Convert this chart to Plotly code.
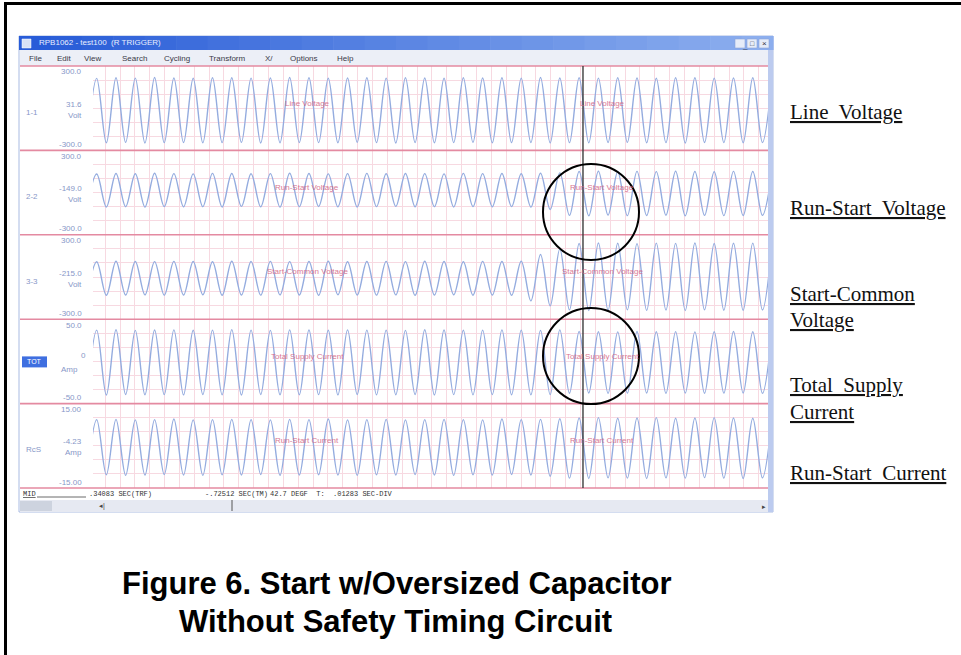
import plotly.graph_objects as go

W, H = 961, 655

# ---------------- data ----------------
PERIOD = 1 / 60.0          # s, mains cycle
T_FIRST_PEAK = 0.0032      # s, first positive peak
X_RANGE = [0, 0.583]       # s, visible time window
SEC_DIV = 0.01283          # s per grid division
CURSOR_T = 0.4232          # s, cursor position

channel_ids = ["1-1", "2-2", "3-3", "TOT", "RcS"]
channel_names = ["Line Voltage", "Run-Start Voltage", "Start-Common Voltage",
                 "Total Supply Current", "Run-Start Current"]
channel_units = ["Volt", "Volt", "Volt", "Amp", "Amp"]
channel_full_scale = [300.0, 300.0, 300.0, 50.0, 15.0]
channel_center_readout = ["31.6", "-149.0", "-215.0", "0", "-4.23"]
channel_top_label = ["300.0", "300.0", "300.0", "50.0", "15.00"]
channel_bottom_label = ["-300.0", "-300.0", "-300.0", "-50.0", "-15.00"]

# positive peaks and preceding negative troughs of each cycle
ch1_peaks = [212, 216, 214, 218, 215, 213, 217, 216, 214, 215, 218, 216, 213, 215, 217, 214, 216, 215,
             213, 217, 215, 216, 214, 218, 215, 217, 214, 216, 215, 213, 217, 216, 214, 215, 216, 215]
ch1_troughs = [-244, -246, -243, -247, -245, -244, -246, -245, -243, -247, -246, -244, -245, -246, -243, -245, -247, -244,
               -246, -245, -243, -246, -245, -244, -247, -245, -246, -244, -243, -246, -245, -247, -244, -245, -246, -244]
ch2_peaks = [132, 136, 134, 138, 135, 133, 137, 136, 134, 135, 138, 136, 133, 135, 137, 134, 136, 135,
             133, 137, 135, 136, 134, 138, 140, 150, 152, 148, 151, 149, 152, 150, 148, 151, 150, 149]
ch2_troughs = [-98, -102, -100, -103, -99, -101, -100, -102, -98, -101, -103, -100, -99, -101, -102, -100, -98, -101,
               -100, -102, -99, -101, -100, -103, -120, -162, -165, -160, -164, -163, -161, -165, -162, -164, -163, -162]
ch3_peaks = [108, 112, 110, 109, 111, 110, 108, 112, 110, 111, 109, 110, 112, 108, 110, 111, 109, 112,
             110, 108, 111, 110, 112, 160, 200, 238, 242, 240, 237, 241, 239, 242, 238, 240, 241, 239]
ch3_troughs = [-126, -130, -128, -127, -129, -128, -126, -130, -128, -129, -127, -128, -130, -126, -128, -129, -127, -130,
               -128, -126, -129, -128, -130, -170, -205, -234, -238, -236, -233, -237, -235, -238, -234, -236, -237, -235]
ch4_peaks = [37.0, 37.5, 36.8, 37.2, 37.4, 36.9, 37.1, 37.6, 37.0, 36.8, 37.3, 37.2, 36.9, 37.4, 37.0, 37.1, 36.8, 37.5,
             37.2, 36.9, 37.0, 37.3, 37.1, 36.8, 37.4, 35.5, 35.2, 35.0, 35.4, 35.1, 35.3, 35.0, 35.2, 35.4, 35.1, 35.3]
ch4_troughs = [-39.5, -39.8, -39.2, -39.6, -39.4, -39.7, -39.3, -39.5, -39.8, -39.2, -39.6, -39.5, -39.4, -39.7, -39.3, -39.6, -39.5, -39.2,
               -39.8, -39.4, -39.6, -39.3, -39.5, -39.7, -39.4, -37.8, -37.5, -37.9, -37.6, -37.4, -37.8, -37.5, -37.7, -37.6, -37.5, -37.8]
ch5_peaks = [9.3, 9.4, 9.2, 9.3, 9.5, 9.2, 9.3, 9.4, 9.3, 9.2, 9.4, 9.3, 9.5, 9.2, 9.3, 9.4, 9.2, 9.3,
             9.4, 9.3, 9.2, 9.5, 9.3, 9.4, 9.6, 9.9, 10.0, 9.8, 9.9, 10.0, 9.8, 9.9, 10.0, 9.9, 9.8, 9.9]
ch5_troughs = [-10.4, -10.3, -10.5, -10.4, -10.2, -10.4, -10.5, -10.3, -10.4, -10.2, -10.5, -10.4, -10.3, -10.4, -10.5, -10.3, -10.4, -10.2,
               -10.4, -10.5, -10.3, -10.4, -10.2, -10.4, -10.8, -11.5, -11.6, -11.4, -11.5, -11.6, -11.4, -11.5, -11.3, -11.5, -11.6, -11.4]

peaks = [ch1_peaks, ch2_peaks, ch3_peaks, ch4_peaks, ch5_peaks]
troughs = [ch1_troughs, ch2_troughs, ch3_troughs, ch4_troughs, ch5_troughs]

menu_items = ["File", "Edit", "View", "Search", "Cycling", "Transform", "X/", "Options", "Help"]
status_items = [".34083 SEC(TRF)", "-.72512 SEC(TM)", "42.7 DEGF  T:  .01283 SEC-DIV"]
side_labels = [["Line  Voltage"], ["Run-Start  Voltage"], ["Start-Common", "Voltage"],
               ["Total  Supply", "Current"], ["Run-Start  Current"]]
title_lines = ["Figure 6. Start w/Oversized Capacitor", "Without Safety Timing Circuit"]

# ---------------- layout geometry (pixels) ----------------
PLOT_L, PLOT_R = 93, 768
PLOT_T, PLOT_B = 66, 488
WIN_L, WIN_R, WIN_T, WIN_B = 19, 773, 36, 512
band_h = (PLOT_B - PLOT_T) / 5.0


def px(x):
    return x / W


def py(y):
    return 1 - y / H


fig = go.Figure()

TRACE_COLOR = "#94acdf"
GRID_COLOR = "#f7d9e1"
RED = "#e48aa1"

layout_axes = {}
for i in range(5):
    top = PLOT_T + i * band_h
    bot = top + band_h
    xs, ys = [], []
    for k in range(len(peaks[i])):
        tp = T_FIRST_PEAK + k * PERIOD
        xs += [tp - PERIOD / 2, tp]
        ys += [troughs[i][k], peaks[i][k]]
    sfx = "" if i == 0 else str(i + 1)
    fig.add_trace(go.Scatter(x=xs, y=ys, mode="lines", xaxis="x" + sfx, yaxis="y" + sfx,
                             line=dict(color=TRACE_COLOR, width=1.4, shape="spline", smoothing=1.0),
                             hoverinfo="skip", showlegend=False))
    R = channel_full_scale[i]
    layout_axes["xaxis" + sfx] = dict(domain=[px(PLOT_L), px(PLOT_R)], range=X_RANGE, anchor="y" + sfx,
                                      showgrid=True, gridcolor=GRID_COLOR, gridwidth=1,
                                      dtick=SEC_DIV, tick0=0.0105, showticklabels=False,
                                      zeroline=False, showline=False, ticks="",
                                      **({} if i == 0 else {"matches": "x"}))
    layout_axes["yaxis" + sfx] = dict(domain=[py(bot), py(top)], range=[-R, R], anchor="x" + sfx,
                                      showgrid=True, gridcolor=GRID_COLOR, gridwidth=1,
                                      tickvals=[-2 * R / 3, -R / 3, 0, R / 3, 2 * R / 3],
                                      showticklabels=False, zeroline=False, showline=False, ticks="")

shapes = []
ann = []


def rect(x0, y0, x1, y1, fill, line=None, lw=0, layer="below"):
    shapes.append(dict(type="rect", xref="paper", yref="paper", x0=px(x0), x1=px(x1), y0=py(y1), y1=py(y0),
                       fillcolor=fill, line=dict(color=line or fill, width=lw), layer=layer))


def hline(x0, x1, y, color, w, layer="above", dash="solid"):
    shapes.append(dict(type="line", xref="paper", yref="paper", x0=px(x0), x1=px(x1), y0=py(y), y1=py(y),
                       line=dict(color=color, width=w, dash=dash), layer=layer))


def vline(x, y0, y1, color, w, layer="above"):
    shapes.append(dict(type="line", xref="paper", yref="paper", x0=px(x), x1=px(x), y0=py(y0), y1=py(y1),
                       line=dict(color=color, width=w), layer=layer))


def text(x, y, s, size=8, color="#333", xanchor="left", family="Liberation Sans", **kw):
    ann.append(dict(xref="paper", yref="paper", x=px(x), y=py(y), text=s, showarrow=False,
                    xanchor=xanchor, yanchor="middle", font=dict(size=size, color=color, family=family, **kw)))


# window frame
rect(WIN_L, WIN_T, WIN_R, WIN_B, "#ffffff", "#a9bbe2", 1)
# title bar gradient
steps = 24
c0 = (40, 92, 216)
c1 = (140, 174, 238)
for s in range(steps):
    f = s / (steps - 1)
    col = "rgb(%d,%d,%d)" % tuple(int(c0[j] + (c1[j] - c0[j]) * f) for j in range(3))
    x0 = WIN_L + (WIN_R - WIN_L) * s / steps
    x1 = WIN_L + (WIN_R - WIN_L) * (s + 1) / steps + 0.6
    rect(x0, WIN_T, x1, 50, col)
rect(22, 39, 31, 48, "#d8e2f6", "#ffffff", 0.5)
for j, bx in enumerate([735, 747, 759]):
    rect(bx, 39, bx + 10, 48, "#e6ecf8", "#8ea6d8", 0.6)
text(37, 43, "RPB1062 - test100  (R TRIGGER)", size=8, color="#e8eeff")
text(740, 45, "_", size=8, color="#334")
text(752, 43.5, "□", size=7, color="#334", xanchor="center")
text(764, 43.5, "×", size=8, color="#334", xanchor="center")
# menu bar
rect(WIN_L + 1, 50, WIN_R - 1, PLOT_T, "#eceff7")
menu_x = [27, 55, 82, 120, 162, 207, 263, 288, 335]
for mx, m in zip(menu_x, menu_items):
    text(mx, 58, m, size=8, color="#3a3a48")
# right edge strip and scroll/status rows
rect(PLOT_R, 50, WIN_R, WIN_B, "#bccbef")
rect(WIN_L + 1, 500, PLOT_R, WIN_B, "#e6e9f2")
rect(WIN_L + 1, 501, 52, 511, "#cdd3df")
text(97, 506, "◂|", size=7, color="#444")
vline(232, 500, 511, "#555", 1)
text(764, 506, "▸", size=7, color="#444", xanchor="center")
# status row
text(21, 494, "<u>MID</u>", size=7, color="#333", family="Liberation Mono")
hline(37, 86, 497, "#444", 0.8)
text(87, 494, status_items[0], size=7, color="#333", family="Liberation Mono")
text(203, 494, status_items[1], size=7, color="#333", family="Liberation Mono")
text(268, 494, status_items[2], size=7, color="#333", family="Liberation Mono")

# channel boundaries & left panel readouts
LABEL_C = "#8797c8"
for i in range(6):
    hline(WIN_L + 1, PLOT_R, PLOT_T + i * band_h, RED, 1.6)
for i in range(5):
    top = PLOT_T + i * band_h
    mid = top + band_h / 2
    text(84, top + 6, channel_top_label[i], size=8, color=LABEL_C, xanchor="right")
    text(84, top + band_h - 6, channel_bottom_label[i], size=8, color=LABEL_C, xanchor="right")
    if i == 3:
        rect(22, mid - 5, 47, mid + 6, "#3f6fe0")
        text(34.5, mid + 0.5, channel_ids[i], size=7, color="#ffffff", xanchor="center")
        text(88, mid - 6, channel_center_readout[i], size=8, color=LABEL_C, xanchor="right")
        text(80, mid + 8, channel_units[i], size=8, color=LABEL_C, xanchor="right")
    else:
        text(24, mid + 4, channel_ids[i], size=8, color=LABEL_C)
        text(84, mid - 4, channel_center_readout[i], size=8, color=LABEL_C, xanchor="right")
        text(84, mid + 7, channel_units[i], size=8, color=LABEL_C, xanchor="right")
    # channel name overlays drawn by the recorder software
    sfx = "" if i == 0 else str(i + 1)
    for tx in [0.185, 0.44]:
        ann.append(dict(xref="x" + sfx, yref="y" + sfx, x=tx, y=channel_full_scale[i] * 0.12,
                        text=channel_names[i], showarrow=False, xanchor="center", yanchor="middle",
                        font=dict(size=8, color="#d66a88", family="Liberation Sans"), opacity=0.9))

# cursor
cursor_x = PLOT_L + (CURSOR_T - X_RANGE[0]) / (X_RANGE[1] - X_RANGE[0]) * (PLOT_R - PLOT_L)
vline(cursor_x, PLOT_T, PLOT_B, "#3c3c3c", 1.4)

# highlight circles
for cy in [212, 356]:
    shapes.append(dict(type="circle", xref="paper", yref="paper", x0=px(543), x1=px(639),
                       y0=py(cy + 48), y1=py(cy - 48), line=dict(color="#000000", width=2), layer="above"))

# outer page frame
hline(4, W, 3.5, "#000000", 3)
vline(5.5, 2, H, "#000000", 3)

# right-side labels
side_y = [[112], [208], [294, 320], [385, 412], [473]]
for labs, ys in zip(side_labels, side_y):
    for s, y in zip(labs, ys):
        text(788, y, s, size=21, color="#111111", family="Liberation Serif", lineposition="under")

# caption
text(397, 583, "<b>" + title_lines[0] + "</b>", size=31, color="#000000", xanchor="center")
text(395, 621, "<b>" + title_lines[1] + "</b>", size=31, color="#000000", xanchor="center")

fig.update_layout(width=W, height=H, margin=dict(l=0, r=0, t=0, b=0),
                  paper_bgcolor="#ffffff", plot_bgcolor="rgba(0,0,0,0)",
                  shapes=shapes, annotations=ann, showlegend=False, **layout_axes)
fig.write_html("out.html", config={"displayModeBar": False},
               post_script="document.body.style.margin='0';document.body.style.overflow='hidden';")
